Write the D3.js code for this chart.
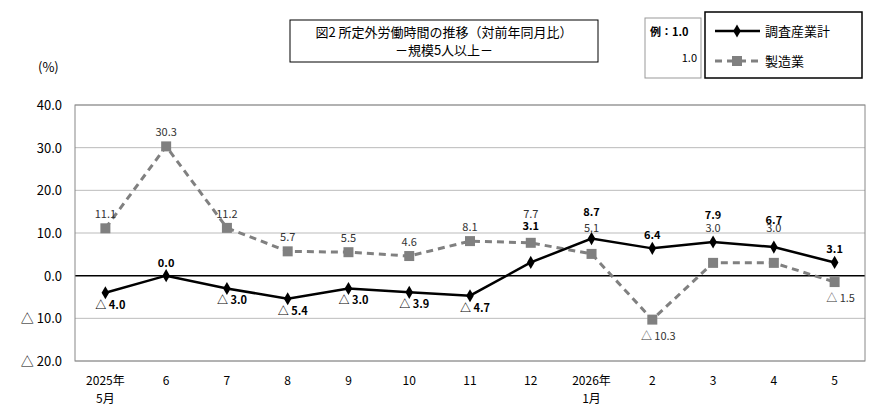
<!DOCTYPE html>
<html><head><meta charset="utf-8">
<script src="https://cdn.jsdelivr.net/npm/d3@7"></script>
<style>body{margin:0;background:#fff;font-family:"Noto Sans CJK JP","DejaVu Sans",sans-serif}</style>
</head><body><svg id="c" width="890" height="415"></svg>
<script>
var months = ["2025年\n5月","6","7","8","9","10","11","12","2026年\n1月","2","3","4","5"];
var totalVals = [-4.0, 0.0, -3.0, -5.4, -3.0, -3.9, -4.7, 3.1, 8.7, 6.4, 7.9, 6.7, 3.1];
var mfgVals = [11.1, 30.3, 11.2, 5.7, 5.5, 4.6, 8.1, 7.7, 5.1, -10.3, 3.0, 3.0, -1.5];
var yTicks = [40, 30, 20, 10, 0, -10, -20];

var svg = d3.select("#c");
var x = d3.scaleBand().domain(d3.range(months.length)).range([75, 865]);
var y = d3.scaleLinear().domain([-20, 40]).range([361, 105]);
var cx = function(i) { return x(i) + x.bandwidth() / 2; };
function fmt(v) { return (v < 0 ? "△ " : "") + Math.abs(v).toFixed(1); }

// grid
svg.selectAll(".g").data(yTicks).enter().append("line")
  .attr("x1", 75).attr("x2", 865).attr("y1", y).attr("y2", y)
  .attr("stroke", function(d) { return d === 0 ? "#000" : "#aaa"; })
  .attr("stroke-width", function(d) { return d === 0 ? 1.5 : 0.8; });
svg.append("rect").attr("x", 75).attr("y", 105).attr("width", 790).attr("height", 256)
  .attr("fill", "none").attr("stroke", "#888");
svg.selectAll(".yl").data(yTicks).enter().append("text")
  .attr("x", 62).attr("y", function(d) { return y(d) + 5; }).attr("text-anchor", "end")
  .attr("font-size", 13).text(fmt);
svg.append("text").attr("x", 38).attr("y", 72).attr("font-size", 13).text("(%)");

// x labels
months.forEach(function(m, i) {
  m.split("\n").forEach(function(s, k) {
    svg.append("text").attr("x", cx(i)).attr("y", 385 + k * 18).attr("text-anchor", "middle")
      .attr("font-size", 12).text(s);
  });
});

var line = d3.line().x(function(d, i) { return cx(i); }).y(function(d) { return y(d); });
svg.append("path").datum(mfgVals).attr("d", line).attr("fill", "none")
  .attr("stroke", "#808080").attr("stroke-width", 3).attr("stroke-dasharray", "7,5");
svg.append("path").datum(totalVals).attr("d", line).attr("fill", "none")
  .attr("stroke", "#000").attr("stroke-width", 2.5);
svg.selectAll(".sq").data(mfgVals).enter().append("rect")
  .attr("x", function(d, i) { return cx(i) - 5; }).attr("y", function(d) { return y(d) - 5; })
  .attr("width", 10).attr("height", 10).attr("fill", "#808080");
svg.selectAll(".dm").data(totalVals).enter().append("path")
  .attr("transform", function(d, i) { return "translate(" + cx(i) + "," + y(d) + ")"; })
  .attr("d", d3.symbol(d3.symbolDiamond, 50)).attr("fill", "#000");

// labels
mfgVals.forEach(function(v, i) {
  var ty = v < 0 ? y(v) + 20 : y(v) - 10;
  if (i === 7) ty = y(v) - 25;
  if (i === 8) ty = y(v) - 22;
  if (i === 10 || i === 11) ty = y(v) - 31;
  svg.append("text").attr("x", cx(i) + (v < 0 ? 6 : 0)).attr("y", ty).attr("text-anchor", "middle")
    .attr("font-size", 11).attr("fill", "#333").text(fmt(v));
});
totalVals.forEach(function(v, i) {
  var ty = v < 0 ? y(v) + 16 : y(v) - 9;
  if (i === 7) ty = y(v) - 32;
  if (i === 8 || i === 10 || i === 11) ty = y(v) - 23;
  svg.append("text").attr("x", cx(i) + (v < 0 ? 5 : 0)).attr("y", ty).attr("text-anchor", "middle")
    .attr("font-size", 11).attr("font-weight", "bold").text(v === 0 ? "0.0" : fmt(v));
});

// title
svg.append("rect").attr("x", 290).attr("y", 20).attr("width", 308).attr("height", 42)
  .attr("fill", "#fff").attr("stroke", "#000");
svg.append("text").attr("x", 444).attr("y", 37).attr("text-anchor", "middle").attr("font-size", 13)
  .text("図2  所定外労働時間の推移（対前年同月比）");
svg.append("text").attr("x", 444).attr("y", 55).attr("text-anchor", "middle").attr("font-size", 13)
  .text("－規模5人以上－");

// example box
svg.append("rect").attr("x", 645).attr("y", 18).attr("width", 56).attr("height", 60)
  .attr("fill", "#fff").attr("stroke", "#999");
svg.append("text").attr("x", 650).attr("y", 36).attr("font-size", 11).attr("font-weight", "bold").text("例：1.0");
svg.append("text").attr("x", 697).attr("y", 62).attr("text-anchor", "end").attr("font-size", 11).text("1.0");

// legend
svg.append("rect").attr("x", 705).attr("y", 12).attr("width", 157).attr("height", 66)
  .attr("fill", "#fff").attr("stroke", "#000").attr("stroke-width", 1.5);
svg.append("line").attr("x1", 715).attr("x2", 760).attr("y1", 31).attr("y2", 31).attr("stroke", "#000").attr("stroke-width", 2.5);
svg.append("path").attr("transform", "translate(737,31)").attr("d", d3.symbol(d3.symbolDiamond, 50));
svg.append("text").attr("x", 765).attr("y", 36).attr("font-size", 13).text("調査産業計");
svg.append("line").attr("x1", 715).attr("x2", 760).attr("y1", 61).attr("y2", 61).attr("stroke", "#808080")
  .attr("stroke-width", 3).attr("stroke-dasharray", "7,5");
svg.append("rect").attr("x", 732).attr("y", 56).attr("width", 10).attr("height", 10).attr("fill", "#808080");
svg.append("text").attr("x", 765).attr("y", 66).attr("font-size", 13).text("製造業");
</script></body></html>
